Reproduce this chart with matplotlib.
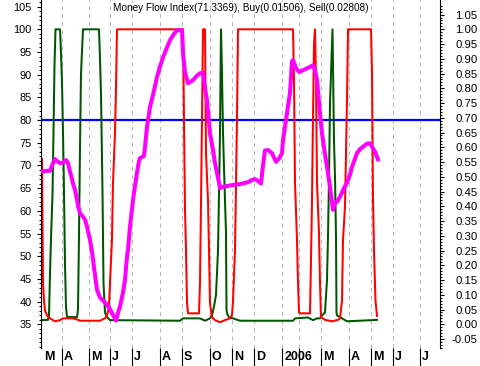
import matplotlib
matplotlib.use('Agg')
import matplotlib.pyplot as plt
import matplotlib.transforms as mtransforms
from matplotlib.ticker import FixedLocator, FuncFormatter, NullFormatter

plt.rcParams['font.family'] = ['Liberation Sans', 'DejaVu Sans']
plt.rcParams['lines.scale_dashes'] = False

# ---------------- data (x = session index) ----------------
mfi_x = [1, 4, 8, 11, 13, 16, 18, 21, 24, 26, 28, 30, 31, 33, 35, 36, 38, 41, 43, 45,
         47, 48, 50, 52, 55, 58, 62, 65, 68, 71, 74, 76, 78, 81, 83, 85, 86, 88, 91, 93,
         95, 97, 98, 102, 103, 105, 108, 111, 115, 118, 121, 125, 128, 132, 135, 140, 141, 143, 146, 151,
         155, 158, 161, 163, 165, 168, 171, 173, 175, 178, 181, 186, 191, 198, 206, 210, 213, 217, 219, 221,
         223, 226, 230, 234, 237, 240, 241, 245, 248, 250, 251, 254, 257, 261, 265, 268, 271, 273, 275, 278,
         280, 283, 285, 288, 291, 293, 295, 298, 302, 305, 308, 310, 313, 315, 318, 321, 325, 328, 330, 333, 336]
mfi_y = [68.7, 68.8, 68.8, 70.5, 71.4, 70.8, 70.5, 70.6, 71.2, 70.5, 68.6, 67.0, 66.0, 64.6, 62.5, 61.0, 59.5, 58.7, 58.0, 56.5,
         54.5, 53.6, 51.0, 47.5, 42.6, 40.9, 40.0, 39.3, 38.3, 37.1, 35.8, 37.5, 38.9, 42.0, 44.8, 50.0, 51.4, 56.5, 62.4, 65.5,
         68.4, 71.0, 71.6, 72.1, 74.0, 78.5, 82.9, 85.5, 89.5, 91.8, 93.8, 96.0, 97.6, 99.0, 99.8, 99.8, 94.7, 90.5, 88.1, 88.8,
         89.8, 90.3, 90.5, 87.0, 84.4, 77.1, 73.4, 70.5, 68.4, 65.0, 65.3, 65.5, 65.7, 65.9, 66.3, 66.8, 67.0, 66.4, 66.0, 70.0,
         73.3, 73.4, 72.7, 70.8, 71.5, 72.7, 75.6, 81.5, 86.0, 93.0, 93.2, 91.5, 90.6, 91.0, 91.4, 91.7, 92.1, 91.0, 88.8, 81.5,
         77.1, 72.5, 69.7, 65.3, 60.2, 61.7, 62.0, 63.1, 65.0, 66.2, 68.0, 69.7, 71.5, 72.7, 73.6, 74.1, 74.8, 74.9, 74.1, 73.0, 71.3369]

sell_x = [0, 1, 2, 3, 5, 8, 13, 18, 21, 31, 36, 38, 58, 63, 65, 67, 68, 70, 71, 73,
          74, 75, 141, 142, 143, 144, 145, 146, 157, 158, 159, 160, 161, 163, 164, 166, 167, 168, 170, 173,
          178, 183, 188, 190, 191, 193, 195, 196, 251, 252, 253, 255, 256, 257, 258, 268, 269, 270, 271, 272,
          273, 274, 275, 277, 278, 279, 283, 290, 296, 298, 300, 301, 303, 305, 306, 329, 330, 331, 332, 333.5, 335]
sell_y = [0.56, 0.14, 0.08, 0.047, 0.03, 0.02, 0.01, 0.014, 0.02, 0.02, 0.015, 0.012, 0.012, 0.02, 0.03, 0.06, 0.14, 0.29, 0.48, 0.65,
          0.80, 1.0, 1.0, 0.69, 0.39, 0.25, 0.075, 0.037, 0.037, 0.14, 0.41, 0.70, 1.0, 1.0, 0.58, 0.42, 0.25, 0.07, 0.024, 0.014,
          0.007, 0.014, 0.02, 0.03, 0.08, 0.25, 0.70, 1.0, 1.0, 0.83, 0.48, 0.285, 0.14, 0.04, 0.037, 0.037, 0.22, 0.42, 0.70, 0.95,
          1.0, 0.83, 0.48, 0.31, 0.14, 0.024, 0.015, 0.01, 0.015, 0.02, 0.08, 0.285, 0.40, 0.76, 1.0, 1.0, 0.85, 0.42, 0.25, 0.08, 0.02808]

buy_x = [0, 6, 7, 8, 9, 10.5, 11.5, 12.5, 13.5, 18, 19, 20, 21, 22, 23, 24, 25, 35, 36, 37,
         38, 39, 41, 57, 58, 59, 60.5, 61.5, 63, 65, 68, 138, 141, 158, 163, 168, 170, 172, 174, 176,
         177, 178, 179, 180, 181, 182, 184, 184.5, 185, 187, 191, 198, 251, 253, 266, 271, 275, 278, 280, 283,
         285, 286, 287, 288, 290.5, 292, 293, 294, 294.5, 295, 300, 305, 330, 335]
buy_y = [0.014, 0.015, 0.03, 0.17, 0.29, 0.44, 0.65, 0.88, 1.0, 1.0, 0.92, 0.82, 0.65, 0.45, 0.20, 0.06, 0.025, 0.024, 0.05, 0.30,
         0.60, 0.85, 1.0, 1.0, 0.90, 0.78, 0.45, 0.14, 0.04, 0.024, 0.014, 0.012, 0.02, 0.02, 0.012, 0.02, 0.03, 0.06, 0.10, 0.25,
         0.44, 0.65, 1.0, 0.85, 0.65, 0.53, 0.31, 0.05, 0.037, 0.024, 0.02, 0.012, 0.012, 0.02, 0.023, 0.014, 0.02, 0.02, 0.03, 0.04,
         0.15, 0.30, 0.49, 0.75, 1.0, 0.62, 0.50, 0.30, 0.04, 0.03, 0.02, 0.01, 0.014, 0.01506]

month_pos = [0, 19.7, 46.7, 68, 89.7, 118, 139.7, 168, 189.7, 212, 240.3, 257.3, 279, 306.7, 329.3, 351.3, 378.3]
month_lbl = ['M', 'A', 'M', 'J', 'J', 'A', 'S', 'O', 'N', 'D', '2006', '', 'M', 'A', 'M', 'J', 'J']

mfi_ticks = list(range(35, 106, 5))
sig_ticks = [round(-0.05 + 0.05 * i, 2) for i in range(23)]
overbought = 80
title = 'Money Flow Index(71.3369), Buy(0.01506), Sell(0.02808)'

# ---------------- figure ----------------
W, H = 481, 366
fig = plt.figure(figsize=(W / 100, H / 100), dpi=100)
fig.patch.set_facecolor('white')
ax = fig.add_axes([41 / W, 18 / H, 399 / W, 348 / H])
ax2 = ax.twinx()

mfi_lo, mfi_hi = 29.77, 106.46
ax2.set_ylim(mfi_lo, mfi_hi)
ax.set_ylim((mfi_lo - 35) / 65, (mfi_hi - 35) / 65)
ax.set_xlim(-1, 398)

# grid (vertical dashed month lines)
for p in month_pos[1:]:
    ax.axvline(p, color='#b8b8b8', lw=0.75, ls=(0, (2.9, 2.9)), zorder=0.5)

# overbought line on MFI scale
ax.plot([0, 1], [overbought, overbought], transform=ax2.get_yaxis_transform(),
        color='#0000ff', lw=1.6, zorder=1, solid_capstyle='butt')

ax.plot(buy_x, buy_y, color='#005500', lw=1.45, zorder=2)
ax.plot(sell_x, sell_y, color='#ff0000', lw=1.45, zorder=3)
ax2.plot(mfi_x, mfi_y, color='#ff00ff', lw=2.9, zorder=3, solid_joinstyle='round')

# spines
for s in ['top', 'bottom', 'left']:
    ax.spines[s].set_visible(False)
for s in ['top', 'bottom', 'right']:
    ax2.spines[s].set_visible(False)
ax.spines['right'].set_linewidth(0.8)
ax2.spines['left'].set_linewidth(0.8)

# left (MFI) axis ticks
ax2.yaxis.tick_left()
ax2.yaxis.set_major_locator(FixedLocator(mfi_ticks))
ax2.yaxis.set_minor_locator(FixedLocator(list(range(30, 107))))
ax2.yaxis.set_major_formatter(FuncFormatter(lambda v, p: '%d' % v))
ax2.tick_params(axis='y', which='major', direction='out', length=2.6, width=0.8, labelsize=7.9, pad=4)
ax2.tick_params(axis='y', which='minor', direction='out', length=1.5, width=0.8)

# right (signal) axis ticks
ax.yaxis.tick_right()
ax.yaxis.set_major_locator(FixedLocator(sig_ticks))
ax.yaxis.set_minor_locator(FixedLocator([round(-0.08 + 0.01 * i, 2) for i in range(117)]))
ax.yaxis.set_major_formatter(FuncFormatter(lambda v, p: '%.2f' % v))
ax.tick_params(axis='y', which='major', direction='out', length=2.6, width=0.8, labelsize=8.2, pad=24.5)
ax.tick_params(axis='y', which='minor', direction='out', length=1.5, width=0.8)
plt.setp(ax.get_yticklabels(), ha='right')

# x axis: month separators + labels
ax.set_xticks(month_pos[1:])
ax.xaxis.set_major_formatter(NullFormatter())
ax.tick_params(axis='x', direction='out', length=13.5, width=0.8, color='black')
ax2.tick_params(axis='x', which='both', length=0, labelbottom=False)
base = mtransforms.blended_transform_factory(ax.transData, ax.transAxes)
lbl_tr = mtransforms.offset_copy(base, fig=fig, x=2, y=-3, units='dots')
for p, t in zip(month_pos, month_lbl):
    if t:
        ax.text(p, 0, t, transform=lbl_tr, ha='left', va='top', fontsize=9,
                fontweight='bold', clip_on=False)

ax.text(0.5, 1 - 8 / 348, title, transform=ax.transAxes, ha='center', va='center',
        fontsize=7.2, color='black')

fig.savefig('out.png', dpi=100, facecolor='white')
